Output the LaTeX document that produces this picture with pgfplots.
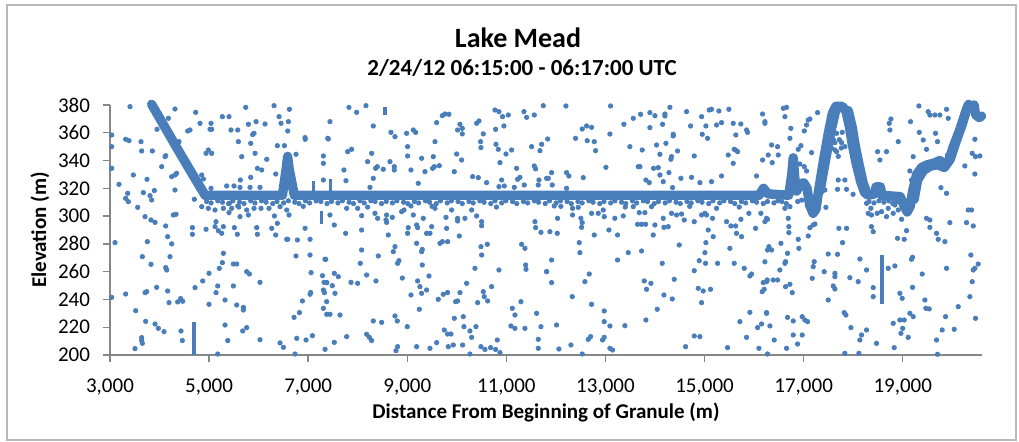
\documentclass[border=0pt]{standalone}
\usepackage{fontspec}
\setmainfont{Carlito}
\usepackage{pgfplots}
\pgfplotsset{compat=1.18}
\definecolor{mblue}{RGB}{74,126,187}
\definecolor{axgray}{RGB}{134,134,134}
\begin{document}
\begin{tikzpicture}
\useasboundingbox (0,0) rectangle (509.5pt,221pt);
\draw[gray!55, line width=0.6pt] (3.5pt,1pt) rectangle (508pt,218.5pt);
\begin{axis}[
  at={(55pt,43.5pt)}, anchor=south west,
  scale only axis, width=436pt, height=125pt,
  xmin=3000, xmax=20600, ymin=200, ymax=380,
  xtick={3000,5000,...,19000}, ytick={200,220,...,380},
  scaled x ticks=false,
  axis lines*=left,
  axis line style={axgray, line width=0.7pt},
  tick style={axgray, line width=0.7pt},
  tick align=outside, major tick length=3.5pt,
  minor tick num=0,
  clip=false,
  /pgf/number format/assume math mode=true,
  /pgf/number format/.cd, 1000 sep={,}, min exponent for 1000 sep=0,
  /pgfplots/.cd,
  ticklabel style={font=\fontsize{10.5}{12}\selectfont, text=black},
  xticklabel style={yshift=-5pt},
  yticklabel style={xshift=-3pt},
]
% lake surface band
\addplot[no markers, mblue, line width=4.7pt, line join=round, line cap=round] coordinates {
(3840,380.5)(4400,346)(4800,322)(4920,315)(6480,315)(6560,335)(6585,343)(6620,333)(6660,326)(6720,315)
(16100,315)(16190,320)(16280,316)(16700,315)(16760,330)(16790,342)(16820,328)(16860,318)(16930,323)(17000,324)
(17070,320)(17120,308)(17190,302)(17250,305)(17300,318)(17400,340)(17500,360)(17580,374)(17650,379)(17780,379)
(17850,376)(17920,365)(17980,352)(18060,338)(18150,325)(18230,317)(18300,315)(18430,316)(18460,321)(18550,321)
(18580,315)(18950,314)(19020,308)(19090,303)(19150,307)(19200,318)(19280,330)(19380,335)(19500,337)(19620,338)
(19750,340)(19870,337)(19930,340)(20020,350)(20150,362)(20280,376)(20330,380.5)};
% extra width of the band on the steep flanks
\addplot[no markers, mblue, line width=4.7pt, line join=round, line cap=round] coordinates {
(17330,318)(17440,340)(17550,361)(17640,375)(17700,379)};
\addplot[no markers, mblue, line width=4.7pt, line join=round, line cap=round] coordinates {
(17900,376)(17980,364)(18040,351)(18120,337)(18200,324)(18280,316)};
\addplot[no markers, mblue, line width=4.7pt, line join=round, line cap=round] coordinates {
(19230,312)(19300,326)(19420,333)(19560,336)(19700,337)(19840,335)(19960,341)(20060,352)(20200,366)(20300,378)};
\addplot[no markers, mblue, line width=4.7pt, line join=round, line cap=round] coordinates {
(20440,380)(20470,373)(20540,371)(20590,372)};
% narrow spikes and columns
\addplot[no markers, mblue, line width=1.6pt] coordinates {(7100,315)(7100,325)};
\addplot[no markers, mblue, line width=1.6pt] coordinates {(7455,315)(7455,327)};
\addplot[no markers, mblue, line width=2pt] coordinates {(4696,200)(4696,224)};
\addplot[no markers, mblue, line width=2pt] coordinates {(18586,237)(18586,272)};
\addplot[no markers, mblue, line width=2pt] coordinates {(8550,372.5)(8550,378.5)};
\addplot[no markers, mblue, line width=1.6pt] coordinates {(7274,294)(7274,304)};
% scattered returns
\addplot[only marks, mark=*, mark size=1.1pt, mblue] coordinates {
(3404,378.8)(3034,358.4)(3034,350)(3034,334.4)(3182,322.9)(3101,280.9)(3034,241.5)(3316,243.9)(3316,355.3)(3384,354.3)
(3626,353.6)(3639,346.9)(3471,329.6)(3316,312.8)(3370,310.4)(3357,316.4)(3559,306.3)(3673,316.9)(3747,326.5)(3808,314.7)
(3841,311.6)(3895,318.4)(3855,346.9)(3949,362.5)(3707,299.6)(3828,297.2)(3909,295.5)(3754,281.6)(3653,270.8)(3828,265.3)
(4124,292.9)(4164,285.2)(4245,280)(4211,270.8)(4124,262.9)(4144,261.2)(3707,244.9)(3740,245.6)(3942,248.7)(4164,246.1)
(4191,237.7)(4366,238.2)(4427,240.6)(4467,238.7)(3518,231.9)(3720,224.2)(3909,222.3)(3976,219.2)(4090,216.8)(3639,212.5)
(3639,210.4)(3653,208.4)(3505,204.6)(4433,217.3)(4460,210.4)
(4043,335.6)(4110,342.8)(4125,343.5)(4245,328.4)(4312,329.6)(4345,330.8)(4312,318.8)(4279,300.8)(4332,301.3)(4312,377.1)
(4178,370.4)(4393,353.6)(4568,361.3)(4615,362)(4729,374.7)(4817,366.8)(5039,366.8)(5019,362.5)(5052,362.5)(4851,329.6)
(4884,326.7)(4938,345.2)(4985,347.6)(5052,345.2)(4703,312.1)(4663,291.7)(4663,286.9)(4938,290.5)(5120,292.4)(5187,289.5)
(5254,287.6)(5140,296)(5288,292.4)(5402,302.5)(5268,371.6)(5402,371.6)(5443,362)(5578,362)(5591,353.6)(5658,342.8)
(5840,352.4)(5739,378.3)(5793,366.1)(5948,368)(5907,359.6)(5880,358.7)(5928,345.2)(5975,334.4)(6062,333.2)(6163,340.9)
(6129,366.3)(6311,379.5)(6412,371.6)(6452,366.8)(6600,368)(6378,350.7)(6520,350.7)(6345,330.3)(6587,361.3)(6621,376.9)
(6755,344.5)(6937,356.5)(6940,355.3)(7307,343.3)(7307,338)(7395,356)(7307,326)(5631,326)(5840,327.9)(6028,320.7)
(5826,320.7)(5624,320.7)(5503,321.7)(5355,321.7)(5039,320)(4871,320.7)
(4851,306.8)(4985,305.6)(5120,304.4)(5288,305.6)(5409,309.2)(5456,305.6)(5578,307.3)(5759,304.4)(5793,300.8)(5907,305.6)
(6048,305.6)(6210,305.6)(6432,306.8)(6318,300.1)(6378,294.8)(6567,304.4)(6614,300.8)(5624,299.6)(5510,291.7)(5570,286.9)
(5961,291.7)(5975,286.9)(6264,291.2)(6345,286.4)(6567,283.3)(6587,283.3)(6755,271.3)(7038,272)(6782,282.8)(7038,283.3)
(6937,291.2)
(5288,273.2)(5268,266.5)(5207,262.4)(5490,265.5)(5557,265.5)(5759,260)(5813,258.3)(6028,252.3)(4999,258.8)(4871,253.3)
(4716,248.5)(5174,249.7)(5140,244.9)(4999,236.5)(5322,239.6)(5490,249.7)(5558,236)(5692,234.3)(5692,232.4)(5322,221.6)
(5376,210.4)(5679,217.3)(5759,219.7)(5174,200.7)(6028,211)(6432,208.7)(6500,205.5)(6715,227.1)(6823,230.5)(6769,212)
(6957,210.8)(7085,213.9)(6883,238.9)(7038,243.7)(7050,245)(7058,259.3)(7288,257.1)(7320,252.3)(7374,252.1)(7327,244.9)
(7307,246.8)(7354,268.9)(7307,233.6)(7374,229.3)(7341,204.1)(6735,200.7)
(7823,378.3)(7978,374.7)(8166,379.5)(7440,368)(8314,364.9)(7406,355.5)(8671,360.3)(8752,357.2)(8987,359.6)(9122,362)
(9168,360.3)(9593,367.3)(9707,372.3)(9761,373.5)(9841,373.3)(9559,353.6)(10063,366.1)(10110,363.2)(10016,362)(10110,359.2)
(10400,366.8)(10447,368.5)(10534,359.2)(10480,353.6)(10487,349.3)(10770,376.4)(10850,375.2)(10924,371.6)(11039,372.8)(10951,364.9)
(10783,362.5)(10790,351.7)(10837,348.1)(10871,338.5)(10992,344.7)(11106,347.6)(11355,375.2)(11409,371.1)(11563,372.8)(11745,379.5)
(11510,350)(11712,351.7)(11678,347.1)(11833,355.5)(11207,334.4)(11274,327.9)(11563,336.1)(11590,334)(11658,326)(11644,322.4)
(11846,327.2)(7722,333.2)(7763,325.5)(7796,346.4)(7877,348.1)(8200,339.2)(8281,345.2)(8361,334.4)(8395,335.6)(8516,333.7)
(8651,339.2)(8738,335.6)(8738,333.2)(8314,327.2)(8247,320.7)(9007,350)(9007,343.3)(9074,333.2)(9290,341.6)(9357,332)
(9512,334.4)(9546,335.6)(9646,336.3)(9525,342.8)(9222,323.6)(9949,332)(9996,344.7)(10097,340.4)(10319,328.4)(10434,327.7)
(10602,324.1)(10904,326)(10850,321.2)(10958,321.7)(11160,320.7)(11227,326.5)(11361,322.4)
(7440,300.8)(7527,293.6)(7776,305.6)(7998,305.6)(8079,300.3)(7756,287.6)(8079,290)(8348,302)(8402,298.4)(8583,300.8)
(8570,297.2)(8583,295.5)(8698,299.1)(8617,286.4)(8752,278)(8718,274.4)(8805,266)(8832,267.9)(8900,255.4)(8415,271.3)
(8052,266)(8180,257.6)(8368,253.3)(8079,275.6)(9007,287.6)(9020,291.7)(9122,300.8)(9189,293.6)(9209,291.7)(9189,280.4)
(9290,274.4)(9303,276)(9303,264.8)(9390,287.6)(9458,287.6)(9492,292.4)(8886,303.2)(8933,304.4)(9074,307.3)(9323,298.4)
(9559,305.6)(9781,299.1)(9794,291.2)(9660,280.4)(9707,281.6)(9814,281.6)(10016,298.4)(10016,296.5)(10050,285.7)(9895,304.4)
(10164,298.4)(10299,304.4)(10400,300.1)(10501,296)(10501,293.1)(10487,278)(10501,272)(10615,279.7)(10366,262.4)(10850,261.2)
(10198,251.6)(10063,244.9)(9976,238.4)(10016,238.9)(9949,226.4)(10130,227.6)(10144,220.4)(10265,217.3)(10299,212.7)(10386,220.4)
(10420,237.7)(10554,242)(10534,245.6)(10622,238.9)(10702,249.2)(10487,206)(10568,204)(10682,205.3)(10783,204)(10817,210.8)
(10871,201.7)(10265,200.7)(11092,220.9)(11173,219.2)(11375,219.2)(11294,238.4)(11120,233.6)(11173,228.8)(11611,230)(11698,220.4)
(11644,211.3)(11644,204.8)(11813,260)(11389,264.8)(11396,261.7)(11307,279.7)(11375,276.8)(11577,296)(11590,291.7)(11698,288.3)
(7527,258.8)(7608,256.4)(7373,252.1)(7487,249.9)(7541,244.4)(7373,238.4)(7642,228.8)(7440,229.3)(7339,268.9)(7864,252.3)
(7998,251.6)(8314,224.5)(8483,223.5)(8180,214.9)(8234,212.7)(8281,210.4)(7776,213.2)(7527,209.1)(8752,228.1)(8799,224.5)
(9000,220.4)(9074,243.2)(9209,253.3)(9256,249.2)(9290,244.4)(9390,246.8)(9438,256.9)(9243,232.9)(9626,240.1)(9727,243.7)
(9814,245)(9189,206)(8805,206)(8772,203.1)(9458,204.8)(9593,208.9)(9747,218)(9814,215.1)(9882,215.1)(9828,206)
(10117,207.2)(9929,207.2)
(12202,379.3)(13103,379.3)(12397,356)(12531,362.7)(12619,364.9)(12720,363.9)(12632,354.3)(12774,353.6)(12801,347.1)(13090,359.1)
(13009,335.1)(13372,366.1)(13561,370.4)(13709,373.3)(13493,350)(13662,335.6)(13696,335.6)(13742,347.6)(13897,374.5)(13998,372.3)
(13897,363.7)(14153,366.1)(14200,372.1)(14200,373.5)(14301,378.3)(14368,358.9)(14368,357.7)(14032,351.2)(14220,352.4)(14099,344.5)
(14321,340.9)(14334,342.8)(14455,346.9)(13971,334.4)(14065,334.9)(14099,329.6)(13816,326)(13884,324.1)(14166,324.8)(14281,331.3)
(14355,320.5)(14523,327.2)(14637,375.2)(14718,364.9)(14792,343.3)(14738,327.9)(14940,371.6)(15027,364.9)(14953,358.9)(15061,356)
(15094,376.4)(15141,376.9)(15289,375.7)(15491,376.9)(15242,365.6)(15343,367.3)(15579,366.8)(15733,366.3)(15632,358.4)(15848,362)
(15868,360.3)(15599,348.1)(15666,346.4)(15626,347.6)(15478,344)(15579,338)(14906,324.1)(15141,324.8)(15343,328.9)(16171,373.5)
(16218,368)(16285,344)(16171,340.4)(16050,328.9)(11812,327.2)(11913,331.3)(11926,322.4)(12215,331.3)(12262,328.9)(12215,320)
(12552,327.7)
(11966,307.3)(12034,298.4)(11879,288.8)(12027,287.6)(11812,260)(11913,252.1)(11913,268.4)(12336,305.6)(12451,306.3)(12336,300.8)
(12504,298.4)(12518,291.9)(12531,295.3)(12774,286.4)(12720,302)(12854,302)(12955,304.4)(12975,299.6)(13190,298.4)(13359,300.1)
(13069,290)(13244,286.4)(12471,280.9)(12484,273.7)(12585,252.8)(12673,258.3)(12330,242)(12720,236.5)(12975,231.7)(13244,268.4)
(13460,273.7)(13729,274.9)(13648,294.1)(13729,294.1)(13810,294.1)(13561,306.8)(13682,302.5)(13796,302.5)(13931,306.8)(13998,293.6)
(13964,286.4)(14180,291.9)(14267,292.4)(14166,298.4)(14334,302)(14489,279.2)(14590,297.2)(14435,300.8)(14536,301.5)(14792,296)
(14940,300.8)(15007,302)(15040,300.8)(15074,290)(15175,285.2)(15027,280.9)(15007,273.7)(15020,266)(14893,267.9)(14792,260.7)
(15263,266)(15161,298.4)(15242,305.6)(15444,296)(15532,292.9)(15626,292.9)(15646,287.6)(15747,285.2)(15511,276.8)(15599,266)
(15801,262.4)(15915,256.9)(15949,258.3)(15733,297.7)(15895,302)(16030,291.2)(16137,302)(16218,296)(16271,297.7)(16271,275.6)
(16218,267.1)(16265,254)(16184,252.1)(16164,245.6)(16204,247.3)(13783,253.3)(13917,251.6)(13830,247.3)(14146,266)(14388,254.5)
(14180,243.2)(14348,240.3)(14045,232.9)(13816,225.2)(14872,248)(14973,246.1)(15121,247.3)(14940,237.7)(14792,213.7)(14906,213.2)
(14617,206)(12975,224)(12975,212.7)(12941,210.8)(13090,220.9)(13392,221.1)(12653,211.3)(12700,213.2)(13090,204.8)(13143,203.6)
(12531,200.7)(12303,207.2)(12060,204.3)(12013,221.6)(15464,205.3)(15713,224)(15848,212.7)(15915,230.7)(16070,219.7)(16150,222.3)
(16097,204.8)(16271,200.7)(16251,230.5)
(16655,378.3)(16590,377.6)(16622,371.6)(16723,356)(16742,363.2)(16474,350)(16353,351.2)(16487,344)(16366,338.5)(16218,366.8)
(17012,361.3)(17093,369.2)(17059,365.6)(17126,369.9)(17281,374.5)(16945,350.7)(16891,348.1)(17160,345.7)(16924,337.5)(17012,335.6)
(17059,332.5)(17664,359.6)(17779,360.3)(17631,352.9)(17765,352.9)(17832,350)(17631,347.6)(17664,346.4)(17698,326)(17832,326)
(17684,319.3)(17866,319.3)(17998,315.7)(17429,318.8)(17449,306.3)(17711,291.2)(17866,291.2)(17785,280.9)(17496,272.7)(17684,272.5)
(17631,258.8)(17415,260)(17631,256.4)(17933,255.7)(18135,269.1)(18270,261.2)(18101,252.8)(17597,249.7)(17631,247.5)(17496,239.6)
(17214,267.2)(17193,263.6)(17173,255.2)(16891,283.3)(16904,276.8)(16702,292.4)(16702,288.1)(16689,298.4)(16622,305.6)(16723,306.8)
(17126,291.7)(17093,285.7)(17227,294.3)(17193,293.6)(16252,298.4)(16299,278)(16353,275.6)(16541,280.4)(16675,273.2)(16635,267.2)
(16622,266)(16520,261.2)(16386,254)(16474,254)(16635,249.2)(16723,250.9)(16770,244.9)(16252,252.8)(16252,230)(16319,220.9)
(16406,210.8)(16655,204.8)(16675,227.1)(16790,224.5)(16971,227.6)(17025,225.2)(17079,224)(16790,214.4)(16877,207.9)(16971,214.4)
(17819,230.5)(17853,228.8)(17954,219.7)(18169,214.4)(18135,210.8)(18270,218)(17832,201.2)(18115,201.2)(18471,208.4)(18828,205.3)
(18404,248.5)(18404,242)(18707,262.4)(18842,264.1)(18942,244.4)(18989,240.8)(19198,248.7)(19178,268.9)(19198,270.4)(19393,258.3)
(19030,225.2)(18942,225.2)(18808,222.8)(19000,219.2)(18963,215.6)(19110,212.7)(19144,230)(19211,227.6)(19030,283.3)(18895,284)
(19077,289.5)(19447,239.6)(19467,233.6)(19534,233.2)(19884,262.4)(19864,227.6)(19682,210.8)(19796,218)(20039,218.5)(20120,234.8)
(20355,242)(20402,252.8)(20423,261.2)(20456,262.4)(20375,272)(20523,265.5)(20469,226.4)(19703,200.5)
(18727,366.8)(18761,369.9)(18741,362)(18492,346.4)(18539,340.4)(18673,346.4)(18909,353.6)(19158,368)(19326,379.3)(19514,375.2)
(19548,372.8)(19648,372.8)(19749,372.8)(19884,376.9)(19918,370.4)(19333,360.3)(19413,354.8)(19480,348.1)(19702,353.6)(19904,344)
(19662,359.6)(19144,332.5)(19178,326)(19211,342.8)(20254,336.1)(20456,355.3)(20402,345.2)(20469,342.8)(20557,343.3)(20456,330.3)
(20321,304.4)(20423,292.9)(20288,295.3)(19951,295.3)(19851,281.6)(19716,283.3)(19548,297.2)(19480,298.4)(19548,291.9)(18976,297.7)
(18909,304.4)(18404,288.8)(18370,292.4)(18270,309.2)(18357,305.6)(18303,302)(18370,300.8)(18485,302)(18572,303.2)(18673,299.6)
(18808,302)(18842,308)(18707,305.6)(19884,316.4)(19770,320.5)(19682,287.6)(20388,304.4)
(17720,355)(17760,349)(17700,343)(17560,349)(17600,355)
};
% ragged lower edge of the surface band
\addplot[only marks, mark=*, mark size=1.1pt, mblue] coordinates {
(4950,310.5)(5040,309.5)(5175,311)(5270,310)(5395,309)(5480,311)(5615,310)(5705,309)(5840,311)(5925,309.5)
(6060,311)(6150,310)(6285,309)(6370,310.5)(6505,309.5)(6600,311)(6730,310)(6815,309)(6945,311)(7030,309.5)
(7160,311)(7255,310.5)(7380,309)(7470,310.5)(7600,309.5)(7690,311)(7825,310)(7915,309)(8045,311)(8130,309.5)
(8265,311)(8350,310.5)(8480,309)(8575,310.5)(8700,309.5)(8790,311)(8925,310)(9010,309)(9145,310.5)(9230,309.5)
(9365,311)(9450,310)(9585,309)(9670,311)(9805,309.5)(9890,311)(10025,310.5)(10110,309)(10245,310.5)(10330,309.5)
(10465,311)(10550,310)(10685,309)(10770,311)(10905,309.5)(10990,311)(11125,310.5)(11210,309)(11345,310.5)(11430,309.5)
(11565,311)(11650,310)(11785,309)(11870,311)(12005,309.5)(12090,311)(12225,310.5)(12310,309)(12445,310.5)(12530,309.5)
(12665,311)(12750,310)(12885,309)(12970,310.5)(13105,309.5)(13190,311)(13325,310)(13410,309)(13545,311)(13630,309.5)
(13765,311)(13850,310.5)(13985,309)(14070,310.5)(14205,309.5)(14290,311)(14425,310)(14510,309)(14645,310.5)(14730,309.5)
(14865,311)(14950,310)(15085,309)(15170,311)(15305,309.5)(15390,311)(15525,310.5)(15610,309)(15745,310.5)(15830,309.5)
(15965,311)(16050,310)(16185,309)(16270,310.5)(16400,309.5)(16480,311)(16560,310.5)(16650,309)(16880,310.5)(16960,311.5)
(18320,310.5)(18420,309.5)(18520,311)(18620,310)(18720,311)(18800,309)(18880,310.5)
(5600,306.5)(6900,307)(8200,306.5)(9500,307)(10800,306.5)(12100,307)(13400,306.5)(14700,307)(15700,306.5)
};
\end{axis}
\node[font=\bfseries\fontsize{14}{16}\selectfont] at (259pt,202pt) {Lake Mead};
\node[font=\bfseries\fontsize{11.5}{13}\selectfont] at (261pt,187pt) {2/24/12 06:15:00 - 06:17:00 UTC};
\node[font=\bfseries\fontsize{10.5}{12}\selectfont, rotate=90] at (20pt,106pt) {Elevation (m)};
\node[font=\bfseries\fontsize{10.5}{12}\selectfont] at (273pt,15pt) {Distance From Beginning of Granule (m)};
\end{tikzpicture}
\end{document}
